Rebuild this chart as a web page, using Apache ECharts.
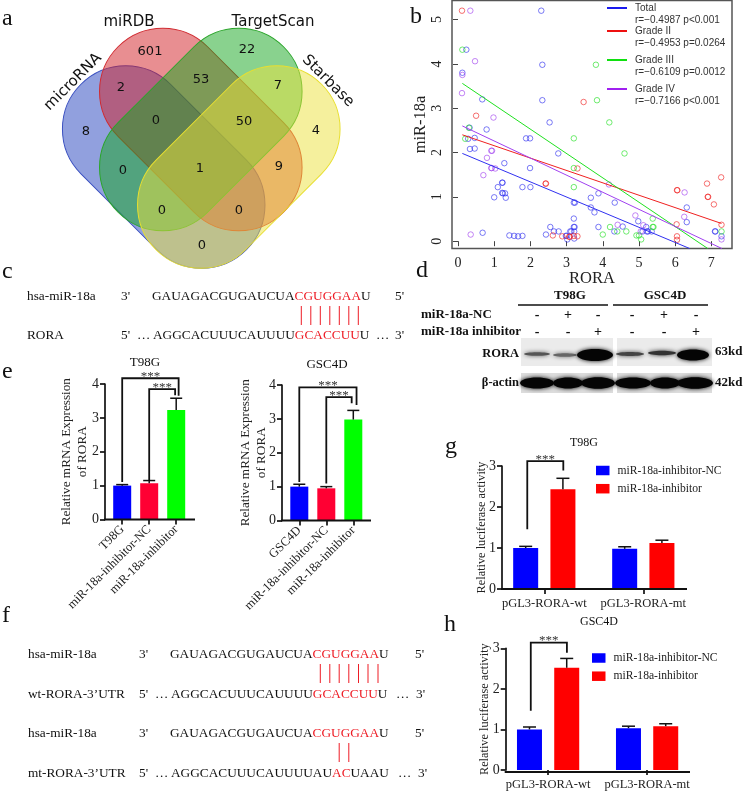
<!DOCTYPE html>
<html><head><meta charset="utf-8">
<style>html,body{margin:0;padding:0;background:#fff}#c{width:744px;height:791px}</style>
<script src="https://cdn.jsdelivr.net/npm/echarts@6/dist/echarts.min.js"></script>
</head><body><div id="c"></div>
<script>
// ---------- data ----------
const vennSets = ['microRNA','miRDB','TargetScan','Starbase'];
const vennValues = [601,22,2,53,7,8,0,50,4,0,1,9,0,0,0];

const scatterTotal = [[2.3,5.2],[0.23,4.32],[2.33,3.98],[0.12,3.8],[2.33,3.18],[0.67,3.2],[2.53,2.68],[0.79,2.52],[0.32,2.56],[0.46,2.33],[0.28,2.31],[1.88,2.32],[1.99,2.32],[0.33,2.08],[0.46,2.09],[2.77,1.98],[1.28,1.76],[1.99,1.65],[1.22,1.32],[1.23,1.32],[1.1,1.22],[1.78,1.22],[2.0,1.22],[1.22,1.09],[1.3,1.08],[1.24,1.08],[1.32,0.98],[1.0,0.99],[3.67,0.98],[3.88,1.08],[3.2,0.87],[3.23,0.87],[4.33,0.87],[3.67,0.76],[3.77,0.65],[6.32,0.76],[6.32,0.43],[3.2,0.51],[4.98,0.45],[2.55,0.32],[3.2,0.32],[3.22,0.32],[3.88,0.32],[4.55,0.33],[5.2,0.32],[2.65,0.22],[2.78,0.22],[3.1,0.22],[3.13,0.22],[3.21,0.22],[4.32,0.22],[5.1,0.22],[5.22,0.22],[5.25,0.22],[5.35,0.22],[7.1,0.22],[7.11,0.22],[0.68,0.19],[1.42,0.13],[1.55,0.12],[1.66,0.11],[1.78,0.12],[2.43,0.15],[2.98,0.12],[3.0,0.12],[3.02,0.04],[3.21,0.06],[7.28,0.11]];
const scatterGrade2 = [[0.11,5.2],[3.47,3.14],[0.5,2.83],[3.3,1.64],[2.42,1.3],[2.43,1.3],[7.27,1.44],[6.88,1.3],[6.05,1.15],[6.06,1.15],[6.9,1.0],[6.91,1.0],[7.07,0.83],[6.04,0.38],[7.28,0.37],[6.05,0.11],[6.05,0.03],[2.62,0.13],[2.88,0.11],[3.07,0.1],[3.09,0.1],[3.3,0.11],[3.2,0.12]];
const scatterGrade3 = [[0.12,4.32],[3.81,3.98],[3.84,3.18],[4.18,2.68],[0.3,2.56],[0.2,2.31],[3.2,2.32],[4.6,1.98],[3.2,1.65],[3.2,1.22],[5.38,0.51],[4.2,0.32],[5.38,0.32],[5.4,0.32],[4.4,0.22],[4.65,0.22],[7.28,0.22],[4.0,0.15],[4.93,0.13],[5.0,0.13],[5.06,0.04]];
const scatterGrade4 = [[0.34,5.2],[0.47,4.06],[0.12,3.75],[0.11,3.34],[0.98,2.79],[0.92,2.04],[0.94,2.04],[0.8,1.88],[0.92,1.65],[0.93,1.65],[1.03,1.64],[0.7,1.49],[4.17,1.28],[6.26,1.1],[6.25,0.55],[4.9,0.58],[5.12,0.36],[4.41,0.37],[5.05,0.22],[7.28,0.04],[0.35,0.15]];
const fitTotal = [[0.12,1.98],[6.4,-0.165]];
const fitGrade2 = [[0.12,2.4],[7.28,0.4]];
const fitGrade3 = [[0.12,3.56],[6.9,-0.165]];
const fitGrade4 = [[0.12,2.6],[7.29,-0.165]];
const scatterLegend = [['Total','r=\u22120.4987 p<0.001'],['Grade II','r=\u22120.4953 p=0.0264'],['Grade III','r=\u22120.6109 p=0.0012'],['Grade IV','r=\u22120.7166 p<0.001']];
const scatterXTicks = [0,1,2,3,4,5,6,7];
const scatterYTicks = [0,1,2,3,4,5];

const catsT98G = ['T98G','miR-18a-inhibitor-NC','miR-18a-inhibitor'];
const catsGSC = ['GSC4D','miR-18a-inhibitor-NC','miR-18a-inhibitor'];
const mrnaT98G = [1.0,1.07,3.23];
const mrnaT98GErr = [0.03,0.08,0.35];
const mrnaGSC = [1.0,0.95,2.98];
const mrnaGSCErr = [0.07,0.05,0.27];

const lucCats = ['pGL3-RORA-wt','pGL3-RORA-mt'];
const lucNames = ['miR-18a-inhibitor-NC','miR-18a-inhibitor'];
const lucT98G_NC = [1.0,0.98];
const lucT98G_NCErr = [0.04,0.05];
const lucT98G_Inh = [2.43,1.12];
const lucT98G_InhErr = [0.27,0.07];
const lucGSC_NC = [1.0,1.03];
const lucGSC_NCErr = [0.06,0.05];
const lucGSC_Inh = [2.52,1.08];
const lucGSC_InhErr = [0.23,0.06];

const blotNC = ['-','+','-','-','+','-'];
const blotInh = ['-','-','+','-','-','+'];

const seqMir = ['GAUAGACGUGAUCUA','CGUGGAA','U'];
const seqRora = ['AGGCACUUUCAUUUU','GCACCUU','U'];
const seqMt = ['AGGCACUUUCAUUUUAU','AC','UAAU'];

// ---------- helpers ----------
const SERIF = '"Liberation Serif", serif';
const SANS = '"DejaVu Sans", sans-serif';
const HELV = '"Liberation Sans", sans-serif';
const g = [];
function T(x,y,text,o){o=o||{};
  g.push({type:'text',x:x,y:y,rotation:o.rot||0,z:20,style:{text:text,fill:o.fill||'#111',
    fontSize:o.size||13,fontFamily:o.font||SERIF,fontWeight:o.weight||'normal',
    align:o.align||'left',verticalAlign:'middle',textAlign:o.align||'left',textVerticalAlign:'middle',
    rich:o.rich}});
}
function L(x1,y1,x2,y2,color,w){
  g.push({type:'line',z:15,shape:{x1:x1,y1:y1,x2:x2,y2:y2},style:{stroke:color,lineWidth:w}});
}
function seqText(x,y,parts,size){
  const base={fontSize:size,fontFamily:SERIF,fill:'#111'};
  T(x,y,'{k|'+parts[0]+'}{r|'+parts[1]+'}{k|'+parts[2]+'}',{size:size,rich:{k:base,r:Object.assign({},base,{fill:'#ee1c25'})}});
}

// ---------- panel letters ----------
[['a',2,19],['b',410,17],['c',2,272],['d',416,271],['e',2,372],['f',2,616],['g',445,447],['h',444,625]].forEach(p=>T(p[1],p[2],p[0],{size:24}));

// ---------- a: Venn ----------
const vennShapes = [
 {cx:163.7,cy:167,rot:-Math.PI/4,fill:'rgba(35,65,190,0.5)',stroke:'#3a50c0'},
 {cx:200.8,cy:129.5,rot:-Math.PI/4,fill:'rgba(210,30,35,0.5)',stroke:'#d02a30'},
 {cx:200.8,cy:129.5,rot:Math.PI/4,fill:'rgba(20,165,30,0.5)',stroke:'#2aa52a'},
 {cx:238.8,cy:167,rot:Math.PI/4,fill:'rgba(235,225,60,0.5)',stroke:'#e8df30'}];
const vr=63.3, vl=234;
vennShapes.forEach(s=>g.push({type:'rect',x:s.cx,y:s.cy,rotation:s.rot,z:5,
  shape:{x:-vl/2,y:-vr,width:vl,height:2*vr,r:vr},style:{fill:s.fill,stroke:s.stroke,lineWidth:1}}));
const vennPos=[[150,52],[247,50],[121,88],[201,80],[278,86],[86,132],[156,121],[244,122],[316,131],[123,171],[200,169],[279,167],[162,211],[239,211],[202,246]];
vennValues.forEach((v,i)=>T(vennPos[i][0],vennPos[i][1],String(v),{size:13,font:SANS,align:'center'}));
T(73,82,vennSets[0],{size:15,font:SANS,align:'center',rot:Math.PI/4});
T(129,22,vennSets[1],{size:15,font:SANS,align:'center'});
T(273,22,vennSets[2],{size:15,font:SANS,align:'center'});
T(328,81,vennSets[3],{size:15,font:SANS,align:'center',rot:-Math.PI/4});

// ---------- b: legend ----------
const lc=['#1a1aee','#ee1010','#10e010','#a020f0'];
const ly=[8,31,60,89];
scatterLegend.forEach((r,i)=>{
  L(607,ly[i],627,ly[i],lc[i],2);
  T(635,ly[i],r[0],{size:10,font:HELV,fill:'#333'});
  T(635,ly[i]+12,r[1],{size:10,font:HELV,fill:'#333'});
});

// ---------- c / f: sequences ----------
const SZ=13.3;
function redTicks(xs,y1,y2){xs.forEach(x=>L(x,y1,x,y2,'#ee1c25',1));}
T(27,297,'hsa-miR-18a',{size:SZ});T(121,297,"3'",{size:SZ});seqText(152,297,seqMir,SZ);T(395,297,"5'",{size:SZ});
T(27,336,'RORA',{size:SZ});T(121,336,"5'",{size:SZ});T(137,336,'\u2026',{size:SZ});seqText(153,336,seqRora,SZ);T(376,336,'\u2026',{size:SZ});T(395,336,"3'",{size:SZ});
redTicks([301.3,310.8,320.3,329.8,339.3,348.8,358.3],306,325);

T(28,655,'hsa-miR-18a',{size:SZ});T(139,655,"3'",{size:SZ});seqText(170,655,seqMir,SZ);T(415,655,"5'",{size:SZ});
T(28,695,'wt-RORA-3\u2019UTR',{size:SZ});T(139,695,"5'",{size:SZ});T(155,695,'\u2026',{size:SZ});seqText(171,695,seqRora,SZ);T(396,695,'\u2026',{size:SZ});T(416,695,"3'",{size:SZ});
redTicks([320.3,329.8,339.2,348.8,358.5,368,378],664,683);
T(28,734,'hsa-miR-18a',{size:SZ});T(139,734,"3'",{size:SZ});seqText(170,734,seqMir,SZ);T(415,734,"5'",{size:SZ});
T(28,774,'mt-RORA-3\u2019UTR',{size:SZ});T(139,774,"5'",{size:SZ});T(155,774,'\u2026',{size:SZ});seqText(171,774,seqMt,SZ);T(398,774,'\u2026',{size:SZ});T(418,774,"3'",{size:SZ});
redTicks([339.2,348.8],743,762);

// ---------- d: western blot ----------
T(570,296,'T98G',{size:13,weight:'bold',align:'center'});
T(665,296,'GSC4D',{size:13,weight:'bold',align:'center'});
L(518,305,608,305,'#111',1.5);L(613,305,708,305,'#111',1.5);
T(421,315,'miR-18a-NC',{size:13,weight:'bold'});
T(421,332,'miR-18a inhibitor',{size:13,weight:'bold'});
const blotX=[537,568,598,632,664,696];
blotX.forEach((x,i)=>{T(x,315,blotNC[i],{size:14,align:'center',weight:'bold'});T(x,332,blotInh[i],{size:14,align:'center',weight:'bold'});});
[[521,338,92,28],[617,338,95,28]].forEach(r=>g.push({type:'rect',z:6,shape:{x:r[0],y:r[1],width:r[2],height:r[3]},style:{fill:'#ebebeb'}}));
[[521,373,92,20],[617,373,95,20]].forEach(r=>g.push({type:'rect',z:6,shape:{x:r[0],y:r[1],width:r[2],height:r[3]},style:{fill:'#dcdcdc'}}));
function band(cx,cy,rx,ry,col,blur){g.push({type:'ellipse',z:7,shape:{cx:cx,cy:cy,rx:rx,ry:ry},style:{fill:col,shadowBlur:blur,shadowColor:col}});}
[[537,354,13,1.8,'#555'],[565,355,12,1.8,'#666'],[595,355,18,6,'#050505'],[630,354,14,2,'#444'],[662,353,14,2.2,'#333'],[693,355,16,5.5,'#050505']].forEach(b=>band(b[0],b[1],b[2],b[3],b[4],4));
[[537,383,17,5.5],[568,383,15,5.5],[598,383,17,5.8],[633,383,18,5.5],[665,383,15,5.5],[695,383,18,5.8]].forEach(b=>band(b[0],b[1],b[2],b[3],'#050505',4));
T(519,354,'RORA',{size:12.5,weight:'bold',align:'right'});
T(519,383,'\u03b2-actin',{size:12.5,weight:'bold',align:'right'});
T(715,352,'63kd',{size:13,weight:'bold'});
T(715,383,'42kd',{size:13,weight:'bold'});

// ---------- titles ----------
T(145,363,'T98G',{size:13,align:'center'});
T(327,365,'GSC4D',{size:13,align:'center'});
T(584,443,'T98G',{size:12,align:'center'});
T(599,622,'GSC4D',{size:12,align:'center'});

// ---------- chart components ----------
const grids=[],xAxes=[],yAxes=[],series=[];

// b scatter
grids.push({left:452,top:0.5,width:280,height:248,show:true,borderColor:'#555',borderWidth:1.5,backgroundColor:'transparent'});
xAxes.push({type:'value',gridIndex:0,min:-0.166,max:7.57,splitLine:{show:false},
  axisLine:{show:false},axisTick:{length:5,customValues:scatterXTicks,lineStyle:{color:'#444'}},
  axisLabel:{customValues:scatterXTicks,fontSize:14,color:'#222',margin:8},
  name:'RORA',nameLocation:'middle',nameGap:22,nameMoveOverlap:false,nameTextStyle:{fontSize:16.5,color:'#222'}});
yAxes.push({type:'value',gridIndex:0,min:-0.165,max:5.43,splitLine:{show:false},
  axisLine:{show:false},axisTick:{length:5,customValues:scatterYTicks,lineStyle:{color:'#444'}},
  axisLabel:{customValues:scatterYTicks,fontSize:14,color:'#222',rotate:90,margin:8},
  name:'miR-18a',nameLocation:'middle',nameGap:23,nameMoveOverlap:false,nameTextStyle:{fontSize:16.5,color:'#222'}});
function addScatter(d,fit,c){
  series.push({type:'scatter',xAxisIndex:0,yAxisIndex:0,data:d,symbol:'circle',symbolSize:5.5,
    itemStyle:{color:'rgba(0,0,0,0)',borderColor:c,borderWidth:0.8}});
  series.push({type:'line',xAxisIndex:0,yAxisIndex:0,data:fit,symbol:'none',clip:true,lineStyle:{color:c,width:1}});
}
addScatter(scatterTotal,fitTotal,'#3030f0');
addScatter(scatterGrade2,fitGrade2,'#f02020');
addScatter(scatterGrade3,fitGrade3,'#20e020');
addScatter(scatterGrade4,fitGrade4,'#a040f0');

function errSeries(ai,vals,errs,off,capW){
  series.push({type:'custom',xAxisIndex:ai,yAxisIndex:ai,clip:false,z:4,silent:true,
    data:vals.map((v,i)=>[i,v,errs[i]]),encode:{x:0,y:1},
    renderItem:function(p,api){
      const i=api.value(0),v=api.value(1),e=api.value(2);
      const band=api.size([1,0])[0];
      const a=api.coord([i,v]),b=api.coord([i,v+e]);
      const x=a[0]+off*band;
      const st={stroke:'#111',lineWidth:1.5,fill:null};
      return {type:'group',children:[
        {type:'line',shape:{x1:x,y1:a[1],x2:x,y2:b[1]},style:st},
        {type:'line',shape:{x1:x-capW/2,y1:b[1],x2:x+capW/2,y2:b[1]},style:st}]};
    }});
}
function bracket(ai,rows){
  series.push({type:'custom',xAxisIndex:ai,yAxisIndex:ai,clip:false,z:5,silent:true,
    data:rows,encode:{x:0,y:2},
    renderItem:function(p,api){
      const band=api.size([1,0])[0];
      const X=(c,o)=>api.coord([c,0])[0]+o*band, Y=v=>api.coord([0,v])[1];
      const x1=X(api.value(0),api.value(1)),x2=X(api.value(3),api.value(4));
      const y1=Y(api.value(2)),y2=Y(api.value(5)),yt=Y(api.value(6));
      return {type:'group',children:[
        {type:'polyline',shape:{points:[[x1,y1],[x1,yt],[x2,yt],[x2,y2]]},style:{stroke:'#111',lineWidth:1.8,fill:null}},
        {type:'text',x:(x1+x2)/2,y:yt-2,style:{text:'***',fill:'#333',fontSize:13,fontFamily:SERIF,align:'center',verticalAlign:'middle',textAlign:'center',textVerticalAlign:'middle'}}]};
    }});
}
function axisCommon(ai,left,top,w,h,axisX,axisEnd,cats,yMax,yName,nameGap,nameSize,opt){
  grids.push({left:left,top:top,width:w,height:h,containLabel:false});
  xAxes.push({type:'category',gridIndex:ai,data:cats,axisLine:{show:false},
    axisTick:{show:true,alignWithLabel:true,length:5,lineStyle:{color:'#111',width:1.7}},
    axisLabel:Object.assign({interval:0,color:'#222',fontSize:12.5,margin:8},opt.xl)});
  yAxes.push({type:'value',gridIndex:ai,min:0,max:yMax,interval:1,offset:left-axisX,splitLine:{show:false},
    axisLine:{show:true,lineStyle:{color:'#111',width:1.7}},axisTick:{show:true,length:5,lineStyle:{color:'#111',width:1.7}},
    axisLabel:{color:'#222',fontSize:14,margin:6},
    name:yName,nameLocation:'middle',nameRotate:90,nameGap:nameGap,nameMoveOverlap:false,
    nameTextStyle:{fontSize:nameSize,color:'#222',lineHeight:16}});
  L(axisX-1,top+h,axisEnd,top+h,'#111',1.9);
}

// e panels
const eColors=['#0000ff','#ff0033','#00ff00'];
function mrnaPanel(ai,left,top,axisX,axisEnd,cats,vals,errs,brs,gap){
  axisCommon(ai,left,top,81,135.5,axisX,axisEnd,cats,4,'Relative mRNA Expression\nof RORA',gap,13.2,{xl:{rotate:45}});
  series.push({type:'bar',xAxisIndex:ai,yAxisIndex:ai,barWidth:18,
    data:vals.map((v,i)=>({value:v,itemStyle:{color:eColors[i]}}))});
  errSeries(ai,vals,errs,0,12);
  bracket(ai,brs);
}
mrnaPanel(1,108.7,384,105,195,catsT98G,mrnaT98G,mrnaT98GErr,
  [[0,0,1.11,2,0.09,3.65,4.17],[1,0,1.16,2,-0.04,3.67,3.85]],14.5);
mrnaPanel(2,285.8,385,282,371,catsGSC,mrnaGSC,mrnaGSCErr,
  [[0,0,1.14,2,0.12,3.41,3.93],[1,0,1.09,2,-0.06,3.46,3.64]],12);

// g / h panels
function lucPanel(ai,left,top,h,axisX,axisEnd,nc,ncE,inh,inhE,br,gap){
  axisCommon(ai,left,top,198,h,axisX,axisEnd,lucCats,3,'Relative luciferase activity',gap,12.3,{xl:{}});
  series.push({type:'bar',name:lucNames[0],xAxisIndex:ai,yAxisIndex:ai,barWidth:25,barGap:'49%',data:nc,itemStyle:{color:'#0000ff'}});
  series.push({type:'bar',name:lucNames[1],xAxisIndex:ai,yAxisIndex:ai,barWidth:25,barGap:'49%',data:inh,itemStyle:{color:'#ff0000'}});
  errSeries(ai,nc,ncE,-0.188,13);
  errSeries(ai,inh,inhE,0.188,13);
  bracket(ai,[br]);
}
lucPanel(3,494.8,466,123,502,687,lucT98G_NC,lucT98G_NCErr,lucT98G_Inh,lucT98G_InhErr,[0,-0.172,1.46,0,0.192,2.89,3.12],12);
lucPanel(4,498.6,648.3,123.7,505.7,690,lucGSC_NC,lucGSC_NCErr,lucGSC_Inh,lucGSC_InhErr,[0,-0.175,1.46,0,0.19,2.89,3.14],12.7);

const legendCommon={orient:'vertical',data:lucNames,icon:'rect',itemWidth:13.5,itemHeight:9.5,itemGap:6.2,selectedMode:false,
  textStyle:{fontSize:11.6,color:'#222',fontFamily:SERIF,padding:[0,0,0,3]},padding:0};

echarts.init(document.getElementById('c'),null,{renderer:'canvas'}).setOption({
  animation:false,backgroundColor:'#fff',
  textStyle:{fontFamily:SERIF},
  grid:grids,xAxis:xAxes,yAxis:yAxes,series:series,
  legend:[Object.assign({left:596,top:464.5},legendCommon),Object.assign({left:592,top:652},legendCommon)],
  graphic:g
});
</script></body></html>
